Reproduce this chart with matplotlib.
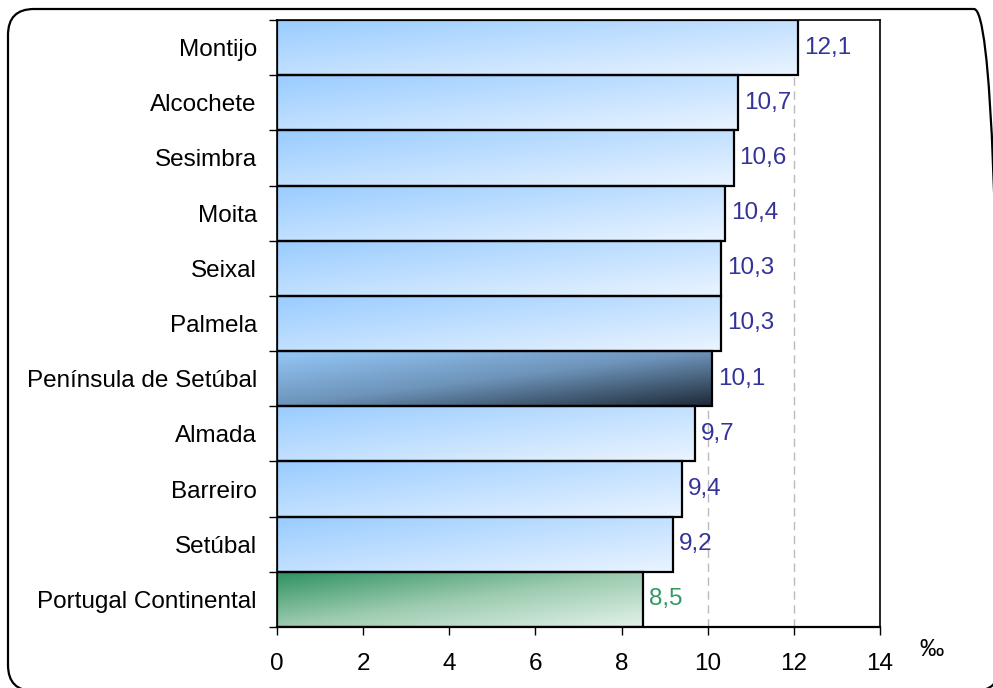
import numpy as np
import matplotlib
matplotlib.use("Agg")
import matplotlib.pyplot as plt
from matplotlib.patches import FancyBboxPatch
from matplotlib.transforms import IdentityTransform
from matplotlib.colors import LinearSegmentedColormap

categories = ["Montijo", "Alcochete", "Sesimbra", "Moita", "Seixal", "Palmela",
              "Península de Setúbal", "Almada", "Barreiro", "Setúbal",
              "Portugal Continental"]
values = [12.1, 10.7, 10.6, 10.4, 10.3, 10.3, 10.1, 9.7, 9.4, 9.2, 8.5]
labels = ["12,1", "10,7", "10,6", "10,4", "10,3", "10,3", "10,1", "9,7", "9,4", "9,2", "8,5"]
kinds = ["m", "m", "m", "m", "m", "m", "r", "m", "m", "m", "p"]
xticks = [0, 2, 4, 6, 8, 10, 12, 14]

plt.rcParams['font.family'] = ['Liberation Sans', 'DejaVu Sans']
FS = 17.5

fig = plt.figure(figsize=(9.93, 6.88), dpi=100)
W, H = 993, 688
ax = fig.add_axes([277 / W, 1 - 627 / H, (880 - 277) / W, (627 - 20) / H])

cmaps = {
    "m": LinearSegmentedColormap.from_list("m", ["#99CCFF", "#EAF4FF"]),
    "r": LinearSegmentedColormap.from_list("r", ["#95C8F8", "#6E94BA", "#1E2A38"]),
    "p": LinearSegmentedColormap.from_list("p", ["#2E9160", "#9CCBB0", "#E2F2E8"]),
}
label_colors = {"m": "#333399", "r": "#333399", "p": "#339966"}

n = len(categories)
ypos = np.arange(n)[::-1]
u = np.linspace(0, 1, 200)[None, :]
v = np.linspace(0, 1, 40)[:, None]
grad = (u + v) / 2.0  # row 0 = top

for y, val, lab, k in zip(ypos, values, labels, kinds):
    ax.imshow(grad, cmap=cmaps[k], vmin=0, vmax=1, aspect='auto',
              extent=(0, val, y - 0.5, y + 0.5), origin='upper',
              interpolation='bilinear', zorder=2)
    ax.barh(y, val, height=1.0, facecolor='none', edgecolor='black',
            linewidth=1.6, zorder=3)
    ax.text(val + 0.14, y, lab, va='center', ha='left', fontsize=FS,
            color=label_colors[k], zorder=4)

ax.set_xlim(0, 14)
ax.set_ylim(-0.5, n - 0.5)
ax.set_xticks(xticks)
ax.set_xticklabels([str(t) for t in xticks], fontsize=FS)
ax.set_yticks(ypos)
ax.set_yticklabels(categories, fontsize=FS)
ax.set_yticks(np.arange(-0.5, n, 1.0), minor=True)
ax.tick_params(axis='y', which='major', length=0, pad=14.5)
ax.tick_params(axis='y', which='minor', length=6, width=1, direction='out')
ax.tick_params(axis='x', length=6, width=1, direction='out', pad=13)
ax.xaxis.grid(True, linestyle=(0, (6, 4)), color='#BBBBBB', linewidth=1, zorder=0)
ax.set_axisbelow(True)
for s in ax.spines.values():
    s.set_color('black')
    s.set_linewidth(1.2)
ax.spines['bottom'].set_linewidth(1.6)

fig.text(932 / W, 1 - 650 / H, "‰", fontsize=FS, ha='center', va='center')

frame = FancyBboxPatch((8, -3), 992, 682,
                       boxstyle="round,pad=0,rounding_size=26",
                       transform=IdentityTransform(), facecolor='none',
                       edgecolor='black', linewidth=1.6)
fig.patches.append(frame)

fig.savefig("out.png", dpi=100)
